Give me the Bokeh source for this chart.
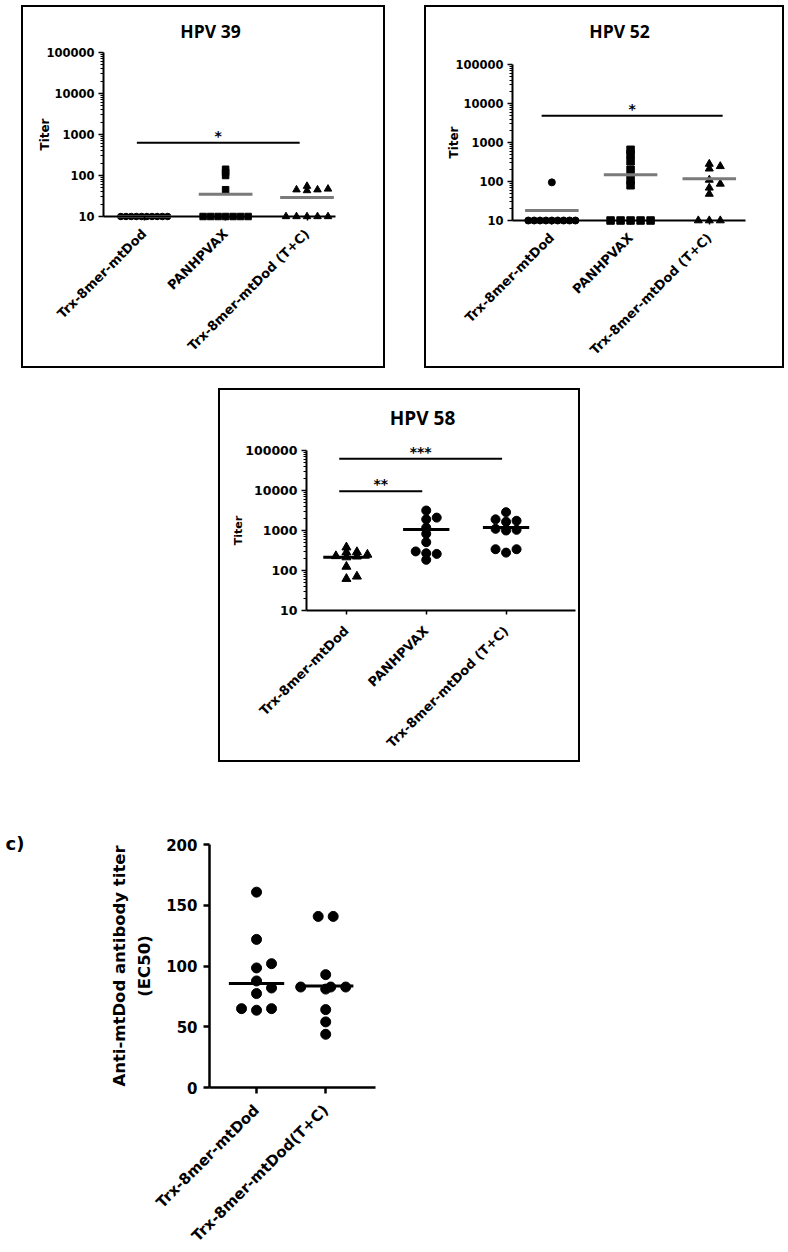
import math
from bokeh.plotting import figure
from bokeh.models import Range1d, FixedTicker, NumeralTickFormatter, Label, Spacer
from bokeh.layouts import column, row
from bokeh.embed import file_html
from bokeh.resources import INLINE
from bokeh.core.properties import value

FONT = "DejaVu Sans"
TFONT = "Open Sans"

# ------------------------------------------------------------------ data
groups = ["Trx-8mer-mtDod", "PANHPVAX", "Trx-8mer-mtDod (T+C)"]

hpv39_trx = [10] * 10
hpv39_pan = [10] * 7 + [45, 100, 120, 142]
hpv39_tc = [10] * 5 + [43, 45, 45, 47, 55]
hpv39_centre = [10, 35, 29]
hpv39_sig_from = [0]
hpv39_sig_to = [2]
hpv39_sig_y = [630]
hpv39_sig_label = ["*"]

hpv52_trx = [10] * 9 + [95]
hpv52_pan = [10] * 5 + [80, 110, 200, 330, 500, 650]
hpv52_tc = [10] * 3 + [48, 69, 87, 110, 213, 246, 282]
hpv52_centre = [18, 148, 117]
hpv52_sig_from = [0]
hpv52_sig_to = [2]
hpv52_sig_y = [4870]
hpv52_sig_label = ["*"]

hpv58_trx = [62, 71, 125, 215, 225, 230, 250, 285, 290, 380]
hpv58_pan = [185, 260, 270, 300, 510, 830, 1180, 1900, 2100, 3160]
hpv58_tc = [280, 340, 340, 1000, 1040, 1100, 1650, 1750, 1900, 2870]
hpv58_centre = [215, 1060, 1180]
hpv58_sig_from = [0, 0]
hpv58_sig_to = [2, 1]
hpv58_sig_y = [62000, 9600]
hpv58_sig_label = ["***", "**"]

c_groups = ["Trx-8mer-mtDod", "Trx-8mer-mtDod(T+C)"]
c_trx = [63.6, 64.9, 64.9, 77.3, 81.9, 87.7, 98.4, 101.9, 121.9, 160.8]
c_tc = [43.8, 54.0, 64.1, 81.0, 82.7, 82.7, 82.7, 92.9, 140.8, 140.8]
c_centre = [85.5, 83.6]

log_major = [10, 100, 1000, 10000, 100000]


# ------------------------------------------------------------------ helpers
def swarm(vals, ppu, ppc, d, ty, log=True):
    """Beeswarm x offsets (in category units) for a list of values."""
    order = sorted(range(len(vals)), key=lambda i: vals[i])
    seq = [0]
    for j in range(1, 40):
        seq += [j, -j]
    placed = []
    xs = [0.0] * len(vals)
    for i in order:
        y = (math.log10(vals[i]) if log else vals[i]) * ppu
        for k in seq:
            x = k * d
            if all(not (abs(x - px) < d - 1e-9 and abs(y - py) < ty) for px, py in placed):
                break
        placed.append((x, y))
        xs[i] = x
    for v in set(vals):
        idx = [i for i in range(len(vals)) if vals[i] == v]
        if len(idx) > 1:
            m = sum(xs[i] for i in idx) / len(idx)
            for i in idx:
                xs[i] -= m
    return [x / ppc for x in xs]


def style_axes(p, tick_size, label_size):
    for ax in p.axis:
        ax.major_label_text_font = FONT
        ax.major_label_text_font_style = "bold"
        ax.major_label_text_font_size = tick_size
        ax.major_label_text_color = "black"
        ax.axis_label_text_font = FONT
        ax.axis_label_text_font_style = "bold"
        ax.axis_label_text_font_size = label_size
        ax.axis_label_text_color = "black"
        ax.axis_line_color = "black"
        ax.major_tick_line_color = "black"
        ax.minor_tick_line_color = "black"


def bare_figure(w, h, xr, yr, log):
    p = figure(width=w, height=h, title=None, x_range=xr, y_range=yr,
               y_axis_type="log" if log else "linear",
               output_backend="svg", toolbar_location=None,
               min_border=0, min_border_left=0, min_border_right=0,
               min_border_top=0, min_border_bottom=0)
    p.grid.visible = False
    p.background_fill_color = "white"
    p.border_fill_color = "white"
    return p


def log_panel(w, h, fl, fr, yhi, ylo, xhi, title, tpos, tsize, series, cfg,
              centre, hw, ccol, cwidth, sig, sig_pad, tick_size, lab_size, lab_standoff,
              cat_size, cat_standoff):
    ppd = (ylo - yhi) / 4.0
    ppc = (fr - fl) / (xhi + 0.5)
    xr = Range1d(-0.5 - fl / ppc, xhi + (w - fr) / ppc)
    yr = Range1d(10 ** (1 - (h - ylo) / ppd), 10 ** (5 + yhi / ppd))
    p = bare_figure(w, h, xr, yr, True)
    p.outline_line_color = "black"
    p.outline_line_width = 3

    for gi, (vals, (marker, size, d, tyy)) in enumerate(zip(series, cfg)):
        offs = swarm(vals, ppd, ppc, d, tyy)
        p.scatter([gi + o for o in offs], vals, marker=marker, size=size,
                  fill_color="black", line_color="black")
    p.segment(x0=[i - hw for i in range(3)], x1=[i + hw for i in range(3)],
              y0=centre, y1=centre, line_color=ccol, line_width=cwidth)
    f, t, y, lab = sig
    p.segment(x0=[a + sig_pad[0] for a in f], x1=[b + sig_pad[1] for b in t],
              y0=y, y1=y, line_color="black", line_width=2)
    p.text(x=[(a + sig_pad[0] + b + sig_pad[1]) / 2 for a, b in zip(f, t)], y=y, text=lab,
           text_font=value(FONT), text_font_style="bold", text_font_size="14px",
           text_align="center", text_baseline="alphabetic", y_offset=-7, text_color="black")

    ya = p.yaxis[0]
    ya.ticker = FixedTicker(ticks=log_major,
                            minor_ticks=[m * 10 ** k for k in range(1, 5) for m in range(2, 10)])
    ya.fixed_location = -0.5
    ya.bounds = (10, 100000)
    ya.formatter = NumeralTickFormatter(format="0")
    ya.axis_label = "Titer"
    ya.axis_label_standoff = lab_standoff
    ya.major_tick_out = 5
    ya.major_tick_in = 0
    ya.minor_tick_out = 3
    ya.minor_tick_in = 0
    ya.major_label_standoff = 4
    ya.axis_line_width = 2
    ya.major_tick_line_width = 1.5

    xa = p.xaxis[0]
    xa.ticker = FixedTicker(ticks=[0, 1, 2])
    xa.major_label_overrides = {i: g for i, g in enumerate(groups)}
    xa.major_label_orientation = math.pi / 4
    xa.fixed_location = 10
    xa.bounds = (-0.5, xhi)
    xa.major_tick_out = 4
    xa.major_tick_in = 0
    xa.minor_tick_line_color = None
    xa.major_label_standoff = cat_standoff
    xa.axis_line_width = 2
    xa.major_tick_line_width = 1.5
    style_axes(p, tick_size, lab_size)
    xa.major_label_text_font_size = cat_size

    tx = xr.start + tpos[0] / ppc
    ty = 10 ** (5 + (yhi - tpos[1]) / ppd)
    p.add_layout(Label(x=tx, y=ty, text=title, text_font=TFONT, text_font_style="bold",
                       text_font_size=tsize, text_align="center", text_baseline="middle",
                       text_color="black"))
    return p


# ------------------------------------------------------------------ HPV 39
p39 = log_panel(364, 363, 82, 314, 47, 211, 2.35, "HPV 39", (189, 25), "17.5px",
                [hpv39_trx, hpv39_pan, hpv39_tc],
                [("circle", 6.5, 5.2, 3), ("square", 6.5, 7.5, 2.5), ("triangle", 7.5, 10.5, 4)],
                hpv39_centre, 0.33, "#7a7a7a", 3,
                (hpv39_sig_from, hpv39_sig_to, hpv39_sig_y, hpv39_sig_label), (-0.09, -0.09),
                "11.5px", "12px", -9, "13px", 11)

# ------------------------------------------------------------------ HPV 52
p52 = log_panel(360, 363, 88, 321, 59, 215, 2.46, "HPV 52", (195, 25), "17.5px",
                [hpv52_trx, hpv52_pan, hpv52_tc],
                [("circle", 7, 5.9, 3), ("square", 7.5, 10, 3), ("triangle", 8, 11, 4.5)],
                hpv52_centre, 0.34, "#7a7a7a", 3,
                (hpv52_sig_from, hpv52_sig_to, hpv52_sig_y, hpv52_sig_label), (-0.13, 0.17),
                "11.5px", "12px", -9, "13px", 11)

# ------------------------------------------------------------------ HPV 58
p58 = log_panel(362, 374, 88, 357, 62, 222, 2.87, "HPV 58", (204, 29), "19px",
                [hpv58_trx, hpv58_pan, hpv58_tc],
                [("triangle", 9, 10.5, 4), ("circle", 9, 10.5, 6), ("circle", 9, 10.5, 6)],
                hpv58_centre, 0.29, "black", 3,
                (hpv58_sig_from, hpv58_sig_to, hpv58_sig_y, hpv58_sig_label), (-0.09, -0.05),
                "12.5px", "11px", -3, "13px", 14)

# ------------------------------------------------------------------ panel c
cw, ch = 400, 452
c_fl, c_fr, c_ft, c_fb = 209, 375, 44, 287
c_xlo, c_xhi = -0.68, 1.72
c_ppc = (c_fr - c_fl) / (c_xhi - c_xlo)
c_ppu = (c_fb - c_ft) / 200.0
c_xr = Range1d(c_xlo - c_fl / c_ppc, c_xhi + (cw - c_fr) / c_ppc)
c_yr = Range1d(0 - (ch - c_fb) / c_ppu, 200 + c_ft / c_ppu)
pc = bare_figure(cw, ch, c_xr, c_yr, False)
pc.outline_line_color = None
for gi, vals in enumerate([c_trx, c_tc]):
    offs = swarm(vals, c_ppu, c_ppc, 15, 10, log=False)
    pc.scatter([gi + o for o in offs], vals, marker="circle", size=10,
               fill_color="black", line_color="black")
pc.segment(x0=[i - 0.4 for i in range(2)], x1=[i + 0.4 for i in range(2)],
           y0=c_centre, y1=c_centre, line_color="black", line_width=3)
cya = pc.yaxis[0]
cya.ticker = FixedTicker(ticks=[0, 50, 100, 150, 200])
cya.fixed_location = c_xlo
cya.bounds = (0, 200)
cya.axis_label = "Anti-mtDod antibody titer\n(EC50)"
cya.axis_label_standoff = 9
cya.axis_label_text_line_height = 1.3
cya.major_tick_out = 6
cya.major_tick_in = 0
cya.minor_tick_line_color = None
cya.major_label_standoff = 6
cxa = pc.xaxis[0]
cxa.ticker = FixedTicker(ticks=[0, 1])
cxa.major_label_overrides = {i: g for i, g in enumerate(c_groups)}
cxa.major_label_orientation = math.pi / 4
cxa.fixed_location = 0
cxa.bounds = (c_xlo, c_xhi)
cxa.major_tick_out = 6
cxa.major_tick_in = 0
cxa.minor_tick_line_color = None
cxa.major_label_standoff = 14
for ax in pc.axis:
    ax.axis_line_width = 2.5
    ax.major_tick_line_width = 2.5
style_axes(pc, "15px", "16.5px")
cxa.major_label_text_font_size = "15px"
pc.add_layout(Label(x=c_xr.start + 5 / c_ppc, y=200 + (c_ft - 43) / c_ppu, text="c)",
                    text_font=FONT, text_font_style="bold", text_font_size="18px",
                    text_align="left", text_baseline="middle", text_color="black"))

# ------------------------------------------------------------------ layout
layout = column(
    Spacer(width=1, height=5),
    row(Spacer(width=21, height=363), p39, Spacer(width=39, height=363), p52),
    Spacer(width=1, height=20),
    row(Spacer(width=218, height=374), p58),
    Spacer(width=1, height=38),
    pc,
)

open("out.html", "w").write(file_html(layout, INLINE))
